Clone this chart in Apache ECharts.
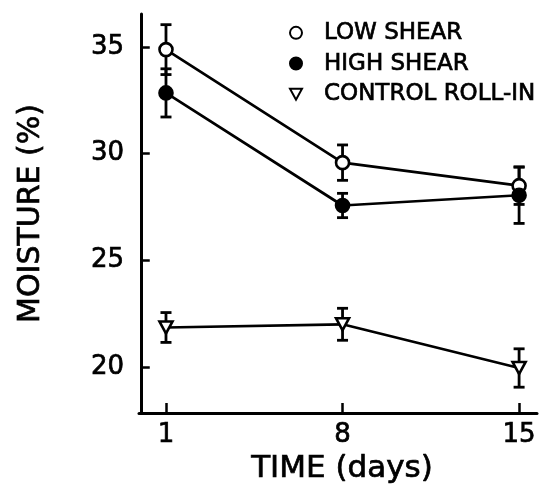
<!DOCTYPE html>
<html><head><meta charset="utf-8">
<script src="https://cdn.jsdelivr.net/npm/echarts@6/dist/echarts.min.js"></script>
<style>html,body{margin:0;padding:0;background:#fff}#c{width:540px;height:486px}</style>
</head><body><div id="c"></div>
<script>
const days = [1, 8, 15];
const seriesNames = ['LOW SHEAR', 'HIGH SHEAR', 'CONTROL ROLL-IN'];
const lowShear = [34.88, 29.58, 28.5];
const lowShearErr = [1.17, 0.83, 0.88];
const highShear = [32.85, 27.57, 28.05];
const highShearErr = [1.13, 0.57, 1.32];
const controlRollIn = [21.85, 22.0, 19.95];
const controlRollInErr = [0.7, 0.75, 0.9];
const xTicks = [1, 8, 15];
const yTicks = [20, 25, 30, 35];

const FONT = 'DejaVu Sans';
const tri = 'path://M0,0L12,0L6,11Z';
const txt = (size) => ({ fontFamily: FONT, fontSize: size, color: '#000', textBorderColor: '#000', textBorderWidth: 0.7 });

function pts(vals) { return days.map((d, i) => [d, vals[i]]); }
function errs(vals, e) { return days.map((d, i) => [d, vals[i] - e[i], vals[i] + e[i]]); }

function renderErr(params, api) {
  const x = api.value(0), lo = api.value(1), hi = api.value(2);
  const pLo = api.coord([x, lo]), pHi = api.coord([x, hi]);
  const hw = 5.5;
  const style = { stroke: '#000', lineWidth: 2.8 };
  return { type: 'group', children: [
    { type: 'line', shape: { x1: pLo[0], y1: pLo[1], x2: pHi[0], y2: pHi[1] }, style },
    { type: 'line', shape: { x1: pLo[0] - hw, y1: pLo[1], x2: pLo[0] + hw, y2: pLo[1] }, style },
    { type: 'line', shape: { x1: pHi[0] - hw, y1: pHi[1], x2: pHi[0] + hw, y2: pHi[1] }, style }
  ]};
}

function errSeries(name, vals, e) {
  return { type: 'custom', name: name, renderItem: renderErr, data: errs(vals, e),
    encode: { x: 0, y: [1, 2] }, z: 1, silent: true };
}

function lineSeries(name, vals, symbol, size, fill) {
  return { type: 'line', name: name, data: pts(vals), symbol: symbol, symbolSize: size,
    z: 3, showAllSymbol: true,
    lineStyle: { color: '#000', width: 2.7 },
    itemStyle: { color: fill, borderColor: '#000', borderWidth: 2.6 } };
}

const chart = echarts.init(document.getElementById('c'), null, { renderer: 'canvas' });
chart.setOption({
  animation: false,
  backgroundColor: '#fff',
  grid: { left: 139, right: 3, top: 14, bottom: 73, outerBoundsMode: 'none' },
  legend: {
    data: seriesNames.map((n, i) => ({ name: n, icon: i === 2 ? tri : 'circle' })),
    orient: 'vertical', left: 289, top: 21, padding: 0, itemWidth: 12, itemHeight: 12, itemGap: 7,
    selectedMode: false,
    textStyle: Object.assign({ padding: [0, 0, 0, 17] }, txt(23))
  },
  xAxis: {
    type: 'value', min: -0.07, max: 15.71,
    splitLine: { show: false },
    axisLine: { lineStyle: { color: '#000', width: 3 } },
    axisTick: { inside: true, length: 10, customValues: xTicks, lineStyle: { color: '#000', width: 2.5 } },
    axisLabel: Object.assign({ customValues: xTicks, margin: 9 }, txt(26)),
    name: 'TIME (days)', nameLocation: 'middle', nameGap: 38,
    nameTextStyle: Object.assign({ padding: [0, 0, 0, 8] }, txt(31))
  },
  yAxis: {
    type: 'value', min: 17.84, max: 36.55,
    splitLine: { show: false },
    axisLine: { lineStyle: { color: '#000', width: 3 } },
    axisTick: { inside: true, length: 9, customValues: yTicks, lineStyle: { color: '#000', width: 2.5 } },
    axisLabel: Object.assign({ customValues: yTicks, margin: 15 }, txt(26)),
    name: 'MOISTURE (%)', nameLocation: 'middle', nameGap: 93,
    nameTextStyle: txt(30)
  },
  series: [
    errSeries('e1', lowShear, lowShearErr),
    errSeries('e2', highShear, highShearErr),
    errSeries('e3', controlRollIn, controlRollInErr),
    lineSeries(seriesNames[0], lowShear, 'circle', 13, '#fff'),
    lineSeries(seriesNames[1], highShear, 'circle', 13, '#000'),
    lineSeries(seriesNames[2], controlRollIn, tri, [13, 12], '#fff')
  ]
});
</script></body></html>
